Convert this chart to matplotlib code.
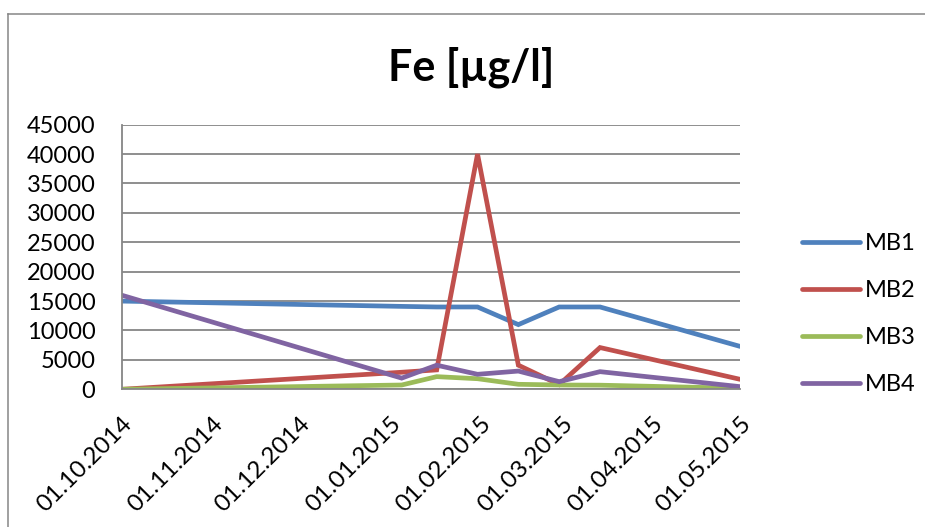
import datetime as dt

import matplotlib
matplotlib.use("Agg")
import matplotlib.dates as mdates
from matplotlib import pyplot as plt
from matplotlib.lines import Line2D

plt.rcParams['font.family'] = ['Lato', 'DejaVu Sans']

# sampling dates
dates = [dt.date(2014, 10, 1), dt.date(2015, 1, 5), dt.date(2015, 1, 17),
         dt.date(2015, 1, 31), dt.date(2015, 2, 14), dt.date(2015, 2, 28),
         dt.date(2015, 3, 14), dt.date(2015, 5, 1)]

mb1 = [15000, 14100, 14000, 14000, 11000, 14000, 14000, 7300]
mb2 = [0, 2900, 3300, 40000, 4100, 800, 7100, 1700]
mb3 = [0, 730, 2150, 1800, 850, 730, 700, 170]
mb4 = [16000, 1900, 4100, 2550, 3100, 1300, 3000, 450]

names = ['MB1', 'MB2', 'MB3', 'MB4']
colors = ['#4F81BD', '#C0504D', '#9BBB59', '#8064A2']
yticks = [0, 5000, 10000, 15000, 20000, 25000, 30000, 35000, 40000, 45000]
month_ticks = [dt.date(2014, 10, 1), dt.date(2014, 11, 1), dt.date(2014, 12, 1),
               dt.date(2015, 1, 1), dt.date(2015, 2, 1), dt.date(2015, 3, 1),
               dt.date(2015, 4, 1), dt.date(2015, 5, 1)]

fig = plt.figure(figsize=(9.25, 5.27), dpi=100)
ax = fig.add_axes([0.1316, 0.2613, 0.6684, 0.5021])

for vals, name, c in zip([mb1, mb2, mb3, mb4], names, colors):
    ax.plot(dates, vals, color=c, lw=3.4, label=name,
            solid_capstyle='round', solid_joinstyle='miter')

ax.set_xlim(dt.date(2014, 10, 1), dt.date(2015, 5, 1))
ax.set_ylim(0, 45000)
ax.set_yticks(yticks)
ax.set_xticks(month_ticks)
ax.xaxis.set_major_formatter(mdates.DateFormatter('%d.%m.%Y'))
ax.grid(axis='y', color='#868686', lw=1.3)
ax.set_axisbelow(True)

for s in ['top', 'right']:
    ax.spines[s].set_visible(False)
for s in ['left', 'bottom']:
    ax.spines[s].set_color('#868686')
    ax.spines[s].set_linewidth(1.3)

ax.tick_params(axis='y', length=0, pad=19, labelsize=17)
ax.tick_params(axis='x', length=0, pad=17, labelsize=17.5)
for lab in ax.get_xticklabels():
    lab.set_rotation(45)
    lab.set_ha('right')
    lab.set_rotation_mode('anchor')

fig.text(471.5 / 925, 1 - 80 / 527, 'Fe [µg/l]', ha='center', va='baseline',
         fontsize=31, fontweight='bold')

fig.legend(loc='center left', bbox_to_anchor=(802 / 925, 1 - 314 / 527),
           frameon=False, fontsize=17, handlelength=2.45, handletextpad=0.2,
           labelspacing=1.1, borderpad=0, borderaxespad=0)

# chart area border (left and top edges visible)
bx = 8 / 925
by = 1 - 14 / 527
fig.add_artist(Line2D([bx, bx], [0, by], transform=fig.transFigure,
                      color='#868686', lw=1.1))
fig.add_artist(Line2D([bx, 1], [by, by], transform=fig.transFigure,
                      color='#868686', lw=1.1))

fig.savefig('out.png', dpi=100)
